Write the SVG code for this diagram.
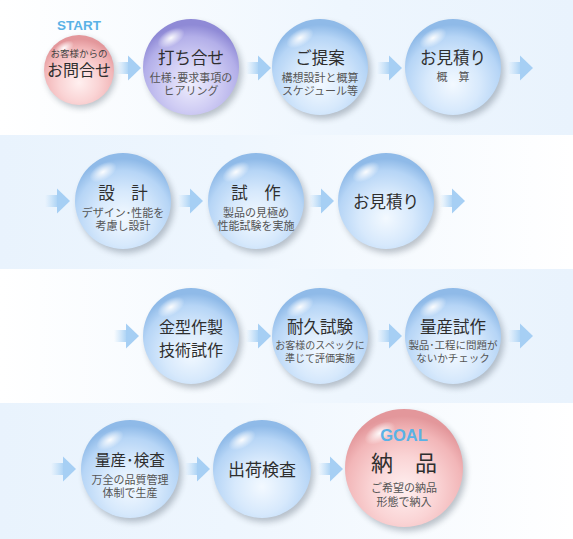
<svg xmlns="http://www.w3.org/2000/svg" width="573" height="539" viewBox="0 0 573 539">
<defs>
<style>
text{font-family:"Liberation Sans","Noto Sans CJK JP",sans-serif;text-anchor:middle;fill:#2e2e2e}
.h{font-size:16.5px;font-weight:400}
.s{font-size:11px;fill:#555}
.lbl{font-family:"Liberation Sans","DejaVu Sans",sans-serif;font-weight:bold;fill:#5ab2e6}
.blue{fill:url(#gBlue)}
.purple{fill:url(#gPurple)}
.pink{fill:url(#gPink)}
.hl{fill:url(#gHl)}
.sh{fill:#3a4a5a;opacity:.32;filter:url(#blur)}
</style>
<linearGradient id="bandR" x1="0" y1="0" x2="1" y2="0"><stop offset="0" stop-color="#ffffff"/><stop offset="0.6" stop-color="#eef6fe"/><stop offset="1" stop-color="#e9f3fd"/></linearGradient>
<linearGradient id="bandL" x1="0" y1="0" x2="1" y2="0"><stop offset="0" stop-color="#e9f3fd"/><stop offset="0.4" stop-color="#eef6fe"/><stop offset="1" stop-color="#ffffff"/></linearGradient>
<radialGradient id="gBlue" cx="0.5" cy="0.68" r="0.62"><stop offset="0" stop-color="#f3f9ff"/><stop offset="0.45" stop-color="#d7e9fc"/><stop offset="0.8" stop-color="#b6d5f6"/><stop offset="1" stop-color="#8fbae8"/></radialGradient>
<radialGradient id="gPurple" cx="0.5" cy="0.68" r="0.62"><stop offset="0" stop-color="#eeedfd"/><stop offset="0.45" stop-color="#d0cdf4"/><stop offset="0.8" stop-color="#b3afe9"/><stop offset="1" stop-color="#8f8ad6"/></radialGradient>
<radialGradient id="gPink" cx="0.5" cy="0.68" r="0.62"><stop offset="0" stop-color="#fff0f0"/><stop offset="0.45" stop-color="#fad4d5"/><stop offset="0.8" stop-color="#f2b6b8"/><stop offset="1" stop-color="#e3979b"/></radialGradient>
<radialGradient id="gHl" cx="0.5" cy="0.5" r="0.5"><stop offset="0" stop-color="#ffffff" stop-opacity="0.95"/><stop offset="1" stop-color="#ffffff" stop-opacity="0"/></radialGradient>
<linearGradient id="gShaft" x1="0" y1="0" x2="1" y2="0"><stop offset="0" stop-color="#b4d8f6" stop-opacity="0"/><stop offset="1" stop-color="#a9d1f4"/></linearGradient>
<filter id="blur" x="-20%" y="-20%" width="140%" height="140%"><feGaussianBlur stdDeviation="3"/></filter>
<g id="arrow"><rect x="0" y="-6" width="13" height="12" fill="url(#gShaft)"/><polygon points="12,-12.5 25,0 12,12.5" fill="#a6cff4"/></g>
</defs>

<rect x="0" y="0" width="573" height="539" fill="#ffffff"/>
<rect x="0" y="0" width="573" height="135" fill="url(#bandR)"/>
<rect x="0" y="135" width="573" height="134" fill="url(#bandL)"/>
<rect x="0" y="269" width="573" height="134" fill="url(#bandR)"/>
<rect x="0" y="403" width="573" height="136" fill="url(#bandL)"/>

<g id="connectors">
<use href="#arrow" x="116" y="68"/>
<use href="#arrow" x="246" y="68"/>
<use href="#arrow" x="377" y="68"/>
<use href="#arrow" x="508" y="68"/>
<use href="#arrow" x="45" y="201"/>
<use href="#arrow" x="178" y="201"/>
<use href="#arrow" x="309" y="201"/>
<use href="#arrow" x="440" y="201"/>
<use href="#arrow" x="114" y="336"/>
<use href="#arrow" x="246" y="336"/>
<use href="#arrow" x="377" y="336"/>
<use href="#arrow" x="508" y="336"/>
<use href="#arrow" x="51" y="469"/>
<use href="#arrow" x="185" y="469"/>
<use href="#arrow" x="318" y="469"/>
</g>

<g id="n-start">
<circle class="sh" cx="81" cy="73" r="35"/>
<circle class="pink" cx="79" cy="70" r="35"/>
<ellipse class="hl" cx="64" cy="48" rx="11" ry="6" transform="rotate(-30 64 48)"/>
<text class="lbl" x="79" y="30" font-size="13.5">START</text>
<text x="79" y="56.5" style="font-size:9.5px;fill:#444">お客様からの</text>
<text x="79" y="76" style="font-size:16px">お問合せ</text>
</g>

<g id="n-uchiawase">
<circle class="sh" cx="194" cy="71" r="48"/>
<circle class="purple" cx="191" cy="67" r="48"/>
<ellipse class="hl" cx="171" cy="38" rx="15" ry="8" transform="rotate(-30 171 38)"/>
<text class="h" x="191" y="64">打ち合せ</text>
<text class="s" x="191" y="82">仕様･要求事項の</text>
<text class="s" x="191" y="95">ヒアリング</text>
</g>

<g id="n-teian">
<circle class="sh" cx="323" cy="71" r="48"/>
<circle class="blue" cx="320" cy="67" r="48"/>
<ellipse class="hl" cx="300" cy="38" rx="15" ry="8" transform="rotate(-30 300 38)"/>
<text class="h" x="320" y="64">ご提案</text>
<text class="s" x="320" y="82">構想設計と概算</text>
<text class="s" x="320" y="95">スケジュール等</text>
</g>

<g id="n-mitsumori1">
<circle class="sh" cx="456" cy="71" r="48"/>
<circle class="blue" cx="453" cy="67" r="48"/>
<ellipse class="hl" cx="433" cy="38" rx="15" ry="8" transform="rotate(-30 433 38)"/>
<text class="h" x="453" y="64">お見積り</text>
<text class="s" x="453" y="81">概　算</text>
</g>

<g id="n-sekkei">
<circle class="sh" cx="126" cy="205" r="48"/>
<circle class="blue" cx="123" cy="201" r="48"/>
<ellipse class="hl" cx="103" cy="172" rx="15" ry="8" transform="rotate(-30 103 172)"/>
<text class="h" x="123" y="199">設　計</text>
<text class="s" x="123" y="217">デザイン･性能を</text>
<text class="s" x="123" y="230">考慮し設計</text>
</g>

<g id="n-shisaku">
<circle class="sh" cx="259" cy="205" r="48"/>
<circle class="blue" cx="256" cy="201" r="48"/>
<ellipse class="hl" cx="236" cy="172" rx="15" ry="8" transform="rotate(-30 236 172)"/>
<text class="h" x="256" y="199">試　作</text>
<text class="s" x="256" y="217">製品の見極め</text>
<text class="s" x="256" y="230">性能試験を実施</text>
</g>

<g id="n-mitsumori2">
<circle class="sh" cx="389" cy="205" r="48"/>
<circle class="blue" cx="386" cy="201" r="48"/>
<ellipse class="hl" cx="366" cy="172" rx="15" ry="8" transform="rotate(-30 366 172)"/>
<text class="h" x="386" y="208">お見積り</text>
</g>

<g id="n-kanagata">
<circle class="sh" cx="194" cy="340" r="48"/>
<circle class="blue" cx="191" cy="336" r="48"/>
<ellipse class="hl" cx="171" cy="307" rx="15" ry="8" transform="rotate(-30 171 307)"/>
<text class="h" x="191" y="333" style="font-size:16px">金型作製</text>
<text class="h" x="191" y="356" style="font-size:16px">技術試作</text>
</g>

<g id="n-taikyu">
<circle class="sh" cx="323" cy="340" r="48"/>
<circle class="blue" cx="320" cy="336" r="48"/>
<ellipse class="hl" cx="300" cy="307" rx="15" ry="8" transform="rotate(-30 300 307)"/>
<text class="h" x="320" y="333">耐久試験</text>
<text class="s" x="320" y="349" style="font-size:10px">お客様のスペックに</text>
<text class="s" x="320" y="362" style="font-size:10px">準じて評価実施</text>
</g>

<g id="n-ryosanshisaku">
<circle class="sh" cx="456" cy="340" r="48"/>
<circle class="blue" cx="453" cy="336" r="48"/>
<ellipse class="hl" cx="433" cy="307" rx="15" ry="8" transform="rotate(-30 433 307)"/>
<text class="h" x="453" y="333">量産試作</text>
<text class="s" x="453" y="349" style="font-size:10.5px">製品･工程に問題が</text>
<text class="s" x="453" y="362" style="font-size:10.5px">ないかチェック</text>
</g>

<g id="n-ryosankensa">
<circle class="sh" cx="133" cy="473" r="49"/>
<circle class="blue" cx="130" cy="469" r="49"/>
<ellipse class="hl" cx="110" cy="440" rx="15" ry="8" transform="rotate(-30 110 440)"/>
<text class="h" x="130" y="466" style="font-size:15.5px">量産･検査</text>
<text class="s" x="130" y="484">万全の品質管理</text>
<text class="s" x="130" y="497">体制で生産</text>
</g>

<g id="n-shukka">
<circle class="sh" cx="265" cy="473" r="49"/>
<circle class="blue" cx="262" cy="469" r="49"/>
<ellipse class="hl" cx="242" cy="440" rx="15" ry="8" transform="rotate(-30 242 440)"/>
<text class="h" x="262" y="476" style="font-size:17px">出荷検査</text>
</g>

<g id="n-goal">
<circle class="sh" cx="407" cy="472" r="59"/>
<circle class="pink" cx="404" cy="468" r="59"/>
<ellipse class="hl" cx="380" cy="433" rx="17" ry="9" transform="rotate(-30 380 433)"/>
<text class="lbl" x="404" y="441" font-size="16.5">GOAL</text>
<text x="404" y="471" style="font-size:22px">納　品</text>
<text class="s" x="404" y="492">ご希望の納品</text>
<text class="s" x="404" y="506">形態で納入</text>
</g>
</svg>
